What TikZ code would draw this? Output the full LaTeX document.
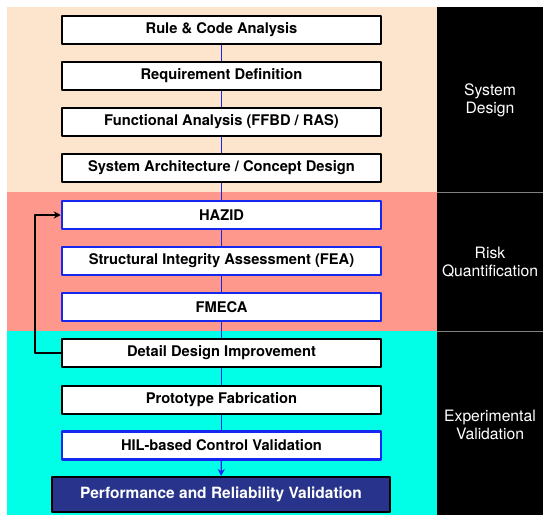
\documentclass[tikz,border=0pt]{standalone}
\usepackage{fontspec}
\setmainfont{TeX Gyre Heros}
\usetikzlibrary{arrows.meta}
\definecolor{peach}{RGB}{253,228,205}
\definecolor{salmon}{RGB}{255,152,140}
\definecolor{aqua}{RGB}{0,255,230}
\definecolor{lineblue}{RGB}{20,40,240}
\definecolor{navy}{RGB}{40,52,140}
\tikzset{
  stage/.style={draw=black, line width=2pt, fill=white, minimum width=319pt, minimum height=28pt, inner sep=0pt},
  riskstage/.style={stage, draw=lineblue, line width=2.5pt},
  finalstage/.style={stage, fill=navy, text=white, minimum width=338pt, minimum height=35pt, font=\bfseries\fontsize{15.5}{17}\selectfont},
  phase/.style={text=white, align=center, font=\fontsize{15.7}{18}\selectfont},
  link/.style={draw=lineblue, line width=1.2pt}
}
\begin{document}
\begin{tikzpicture}[x=1pt,y=-1pt,font=\bfseries\fontsize{14.7}{17}\selectfont, line join=round, >={Stealth[length=7pt,width=7pt]}]
	\useasboundingbox (0,0) rectangle (550,523);
	% bands
	\fill[peach] (7,7) rectangle (437,192);
	\fill[salmon] (7,192) rectangle (437,331);
	\fill[aqua] (7,331) rectangle (437,515);
	\fill[black] (437,7) rectangle (543,515);
	\draw[gray, line width=1pt] (437,192) -- (543,192) (437,331) -- (543,331);
	% stages
	\node[stage] (rca) at (221.5,30) {Rule \& Code Analysis};
	\node[stage] (rqd) at (221.5,76) {Requirement Definition};
	\node[stage] (fna) at (221.5,122) {Functional Analysis (FFBD / RAS)};
	\node[stage] (sac) at (221.5,168) {System Architecture / Concept Design};
	\node[riskstage] (haz) at (221.5,215) {HAZID};
	\node[riskstage] (sia) at (221.5,261) {Structural Integrity Assessment (FEA)};
	\node[riskstage] (fme) at (221.5,307) {FMECA};
	\node[stage] (ddi) at (221.5,353) {Detail Design Improvement};
	\node[stage] (ptf) at (221.5,399.5) {Prototype Fabrication};
	\node[riskstage] (hil) at (221.5,445.5) {HIL-based Control Validation};
	\node[finalstage] (prv) at (221,494.5) {Performance and Reliability Validation};
	% phases
	\node[phase] (sd) at (490,100) {System\\Design};
	\node[phase] (rq) at (490,262) {Risk\\Quantification};
	\node[phase] (ev) at (490,425) {Experimental\\Validation};
	% links
	\draw[link] (rca) -- (rqd);
	\draw[link] (rqd) -- (fna);
	\draw[link] (fna) -- (sac);
	\draw[link] (sac) -- (haz);
	\draw[link] (haz) -- (sia);
	\draw[link] (sia) -- (fme);
	\draw[link] (fme) -- (ddi);
	\draw[link] (ddi) -- (ptf);
	\draw[link] (ptf) -- (hil);
	\draw[link,->] (hil) -- (prv);
	\draw[->, line width=1.8pt] (ddi.west) -- ++(-26,0) |- (haz.west);
\end{tikzpicture}
\end{document}
